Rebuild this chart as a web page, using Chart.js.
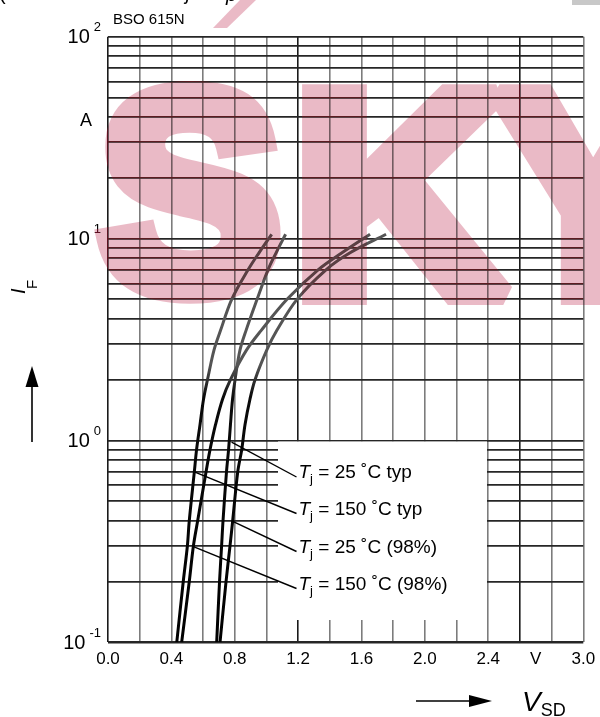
<!DOCTYPE html>
<html>
<head>
<meta charset="utf-8">
<script src="https://cdn.jsdelivr.net/npm/chart.js@4.4.1/dist/chart.umd.min.js"></script>
<style>
	html, body { margin: 0; padding: 0; background: #fff; }
	#wrapper-bso-diode { width: 600px; height: 717px; }
</style>
</head>
<body>
<div id="wrapper-bso-diode"><canvas id="bso-diode" width="600" height="717"></canvas></div>
<script>
// forward current I_F (A) where each curve was read
const currentA = [0.1, 0.2, 0.3, 0.4, 0.7, 0.9, 1.2, 1.6, 2, 2.8, 3.5, 5, 7, 8.5, 10.5];

// V_SD (V) of each curve at those currents
const vsd150Typ = [0.434, 0.475, 0.501, 0.513, 0.545, 0.559, 0.581, 0.603, 0.628, 0.669, 0.71, 0.781, 0.884, 0.953, 1.033];
const vsd150Max = [0.465, 0.513, 0.539, 0.566, 0.619, 0.644, 0.679, 0.723, 0.773, 0.874, 0.966, 1.13, 1.326, 1.477, 1.654];
const vsd25Typ = [0.686, 0.704, 0.717, 0.726, 0.748, 0.761, 0.773, 0.786, 0.802, 0.833, 0.871, 0.941, 1.01, 1.061, 1.121];
const vsd25Max = [0.707, 0.745, 0.77, 0.787, 0.819, 0.844, 0.865, 0.896, 0.928, 1.002, 1.065, 1.193, 1.376, 1.528, 1.755];

// grid and tick labels
const xGridV = [0, 0.2, 0.4, 0.6, 0.8, 1.0, 1.2, 1.4, 1.6, 1.8, 2.0, 2.2, 2.4, 2.6, 2.8, 3.0];
const xLabelV = [0, 0.4, 0.8, 1.2, 1.6, 2.0, 2.4, 2.7, 3.0];
const xLabelText = ["0.0", "0.4", "0.8", "1.2", "1.6", "2.0", "2.4", "V", "3.0"];
const yGridA = [0.1, 0.2, 0.3, 0.4, 0.5, 0.6, 0.7, 0.8, 0.9, 1, 2, 3, 4, 5, 6, 7, 8, 9, 10, 20, 30, 40, 50, 60, 70, 80, 90, 100];
const yDecadeA = [100, 10, 1, 0.1];
const yDecadeExp = ["2", "1", "0", "-1"];

// legend texts (top to bottom) and where their leader lines touch the curves
const legendTemp = ["25", "150", "25", "150"];
const legendKind = ["typ", "typ", "(98%)", "(98%)"];
const leaderV = [0.78, 0.549, 0.781, 0.539];
const leaderA = [0.98, 0.697, 0.4, 0.298];

const FONT = "'Liberation Sans', Arial, Helvetica, sans-serif";

function curvePoints(vs) {
	return vs.map((v, i) => ({ x: v, y: currentA[i] }));
}

function curveColor(ctx) {
	const c = ctx.chart.ctx;
	const g = c.createLinearGradient(0, 642, 0, 234);
	g.addColorStop(0, "#000");
	g.addColorStop(0.6, "#0a0a0a");
	g.addColorStop(0.68, "#555");
	g.addColorStop(1, "#555");
	return g;
}

function isNear(a, b) {
	return Math.abs(a - b) < 1e-6;
}

// text with subscript: main part then smaller lowered part
function subText(c, x, y, main, mainFont, sub, subFont, drop) {
	c.font = mainFont;
	c.fillText(main, x, y);
	const w = c.measureText(main).width;
	c.font = subFont;
	c.fillText(sub, x + w, y + drop);
	return x + w + c.measureText(sub).width;
}

// big letter fitted into a box, fattened with a stroke
function boxLetter(c, ch, x0, x1, top, bottom, fat) {
	c.font = "bold 300px " + FONT;
	c.textAlign = "left";
	c.textBaseline = "alphabetic";
	const m = c.measureText(ch);
	const w = m.actualBoundingBoxLeft + m.actualBoundingBoxRight;
	const h = m.actualBoundingBoxAscent + m.actualBoundingBoxDescent;
	const sx = (x1 - x0 - fat) / w;
	const sy = (bottom - top - fat) / h;
	c.save();
	c.translate(x0 + fat / 2, top + fat / 2);
	c.scale(sx, sy);
	c.lineWidth = fat / Math.min(sx, sy);
	c.lineJoin = "miter";
	c.miterLimit = 2;
	c.fillText(ch, m.actualBoundingBoxLeft, m.actualBoundingBoxAscent);
	c.strokeText(ch, m.actualBoundingBoxLeft, m.actualBoundingBoxAscent);
	c.restore();
}

function watermark(c, w, h) {
	const mask = document.createElement("canvas");
	mask.width = w;
	mask.height = h;
	const mc = mask.getContext("2d");
	mc.fillStyle = "#000";
	mc.strokeStyle = "#000";
	boxLetter(mc, "S", 93, 284, 80, 305, 22);
	boxLetter(mc, "K", 301, 516, 80, 305, 22);
	boxLetter(mc, "Y", 488, 700, 80, 305, 22);
	mc.beginPath();
	mc.moveTo(213, 28);
	mc.lineTo(227, 28);
	mc.lineTo(256, 0);
	mc.lineTo(240, 0);
	mc.closePath();
	mc.fill();

	// dark lines turn maroon, then paper turns pink
	const passes = [["lighten", "rgb(100,20,42)"], ["multiply", "rgb(234,186,198)"]];
	passes.forEach(([op, col]) => {
		const tint = document.createElement("canvas");
		tint.width = w;
		tint.height = h;
		const tc = tint.getContext("2d");
		tc.drawImage(mask, 0, 0);
		tc.globalCompositeOperation = "source-in";
		tc.fillStyle = col;
		tc.fillRect(0, 0, w, h);
		c.save();
		c.setTransform(1, 0, 0, 1, 0, 0);
		c.globalCompositeOperation = op;
		c.drawImage(tint, 0, 0);
		c.restore();
	});
}

const paperPlugin = {
	id: "paper",
	beforeDraw(chart) {
		const c = chart.ctx;
		c.save();
		c.fillStyle = "#fff";
		c.fillRect(0, 0, chart.width, chart.height);
		c.restore();
	},
	afterDraw(chart) {
		const c = chart.ctx;
		const xs = chart.scales.x;
		const ys = chart.scales.y;
		c.save();

		// legend box covers the grid
		c.fillStyle = "#fff";
		c.fillRect(278, 441.5, 209, 178.5);

		// leader lines and legend texts
		const textX = 298.5;
		const textY = [478, 514.5, 552.5, 589.5];
		c.strokeStyle = "#000";
		c.lineWidth = 1.4;
		for (let k = 0; k < legendTemp.length; k++) {
			c.beginPath();
			c.moveTo(xs.getPixelForValue(leaderV[k]), ys.getPixelForValue(leaderA[k]));
			c.lineTo(textX - 2, textY[k] - 1);
			c.stroke();

			c.fillStyle = "#000";
			c.textAlign = "left";
			c.textBaseline = "alphabetic";
			let x = subText(c, textX, textY[k], "T", "italic 19px " + FONT, "j", "13px " + FONT, 5);
			c.font = "19px " + FONT;
			c.fillText(" = " + legendTemp[k] + " \u02DAC " + legendKind[k], x, textY[k]);
		}

		// x tick labels
		c.fillStyle = "#000";
		c.font = "17px " + FONT;
		c.textAlign = "center";
		c.textBaseline = "middle";
		xLabelV.forEach((v, i) => {
			c.fillText(xLabelText[i], xs.getPixelForValue(v), 659);
		});

		// y tick labels 10^n
		c.textAlign = "right";
		yDecadeA.forEach((a, i) => {
			const y = ys.getPixelForValue(a);
			c.font = "13px " + FONT;
			c.textBaseline = "middle";
			const supW = c.measureText(yDecadeExp[i]).width;
			c.fillText(yDecadeExp[i], 101, y - 9);
			c.font = "20px " + FONT;
			c.fillText("10", 101 - supW - 4, y + 1);
		});
		c.font = "18px " + FONT;
		c.textAlign = "center";
		c.fillText("A", 86, ys.getPixelForValue(38));

		// header
		c.textAlign = "left";
		c.textBaseline = "alphabetic";
		c.font = "15px " + FONT;
		c.fillText("BSO 615N", 113, 24);

		// cut-off title remnants at the very top
		c.font = "20px " + FONT;
		c.fillText("(", -1, 0);
		c.font = "italic 20px " + FONT;
		c.fillText("j", 186, 0);
		c.fillText("p", 226, 1);

		// y axis title and arrow
		c.save();
		c.translate(25, 294);
		c.rotate(-Math.PI / 2);
		c.font = "italic 20px " + FONT;
		c.fillText("I", 0, 0);
		c.font = "15px " + FONT;
		c.fillText("F", 5, 12);
		c.restore();

		c.lineWidth = 1.6;
		c.beginPath();
		c.moveTo(32, 442);
		c.lineTo(32, 384);
		c.stroke();
		c.beginPath();
		c.moveTo(32, 366);
		c.lineTo(25.5, 387);
		c.lineTo(38.5, 387);
		c.closePath();
		c.fill();

		// x axis title and arrow
		c.beginPath();
		c.moveTo(416, 701);
		c.lineTo(472, 701);
		c.stroke();
		c.beginPath();
		c.moveTo(492, 701);
		c.lineTo(469, 695);
		c.lineTo(469, 707);
		c.closePath();
		c.fill();
		subText(c, 522, 711, "V", "italic 28px " + FONT, "SD", "18px " + FONT, 5);

		watermark(c, chart.width, chart.height);

		c.fillStyle = "#c8c8c8";
		c.fillRect(572, 0, 28, 5);
		c.restore();
	},
};

new Chart(document.getElementById("bso-diode").getContext("2d"), {
	type: "line",
	data: {
		datasets: [
			{ label: "Tj = 150 °C typ", data: curvePoints(vsd150Typ) },
			{ label: "Tj = 150 °C (98%)", data: curvePoints(vsd150Max) },
			{ label: "Tj = 25 °C typ", data: curvePoints(vsd25Typ) },
			{ label: "Tj = 25 °C (98%)", data: curvePoints(vsd25Max) },
		].map((d) => ({
			...d,
			borderColor: curveColor,
			borderWidth: 3,
			pointRadius: 0,
			fill: false,
			tension: 0.35,
		})),
	},
	options: {
		responsive: false,
		animation: false,
		layout: {
			padding: { left: 108, right: 16.7, top: 36.7, bottom: 74.7 },
		},
		scales: {
			x: {
				type: "linear",
				min: 0,
				max: 3,
				afterBuildTicks: (s) => {
					s.ticks = xGridV.map((v) => ({ value: v }));
				},
				afterFit: (s) => {
					s.height = 0;
				},
				ticks: { display: false },
				border: { display: false },
				grid: {
					drawTicks: false,
					lineWidth: 1.6,
					color: (ctx) => {
						const v = ctx.tick.value;
						if (isNear(v, 0) || isNear(v, 1.2) || isNear(v, 2.6)) return "#1a1a1a";
						return "#7c7c7c";
					},
				},
			},
			y: {
				type: "logarithmic",
				min: 0.1,
				max: 100,
				afterBuildTicks: (s) => {
					s.ticks = yGridA.map((v) => ({ value: v }));
				},
				afterFit: (s) => {
					s.width = 0;
				},
				ticks: { display: false },
				border: { display: false },
				grid: {
					drawTicks: false,
					color: "#262626",
					lineWidth: (ctx) => (isNear(ctx.tick.value, 0.1) ? 2.6 : 1.7),
				},
			},
		},
		plugins: {
			legend: { display: false },
			tooltip: { enabled: false },
		},
	},
	plugins: [paperPlugin],
});
</script>
</body>
</html>
